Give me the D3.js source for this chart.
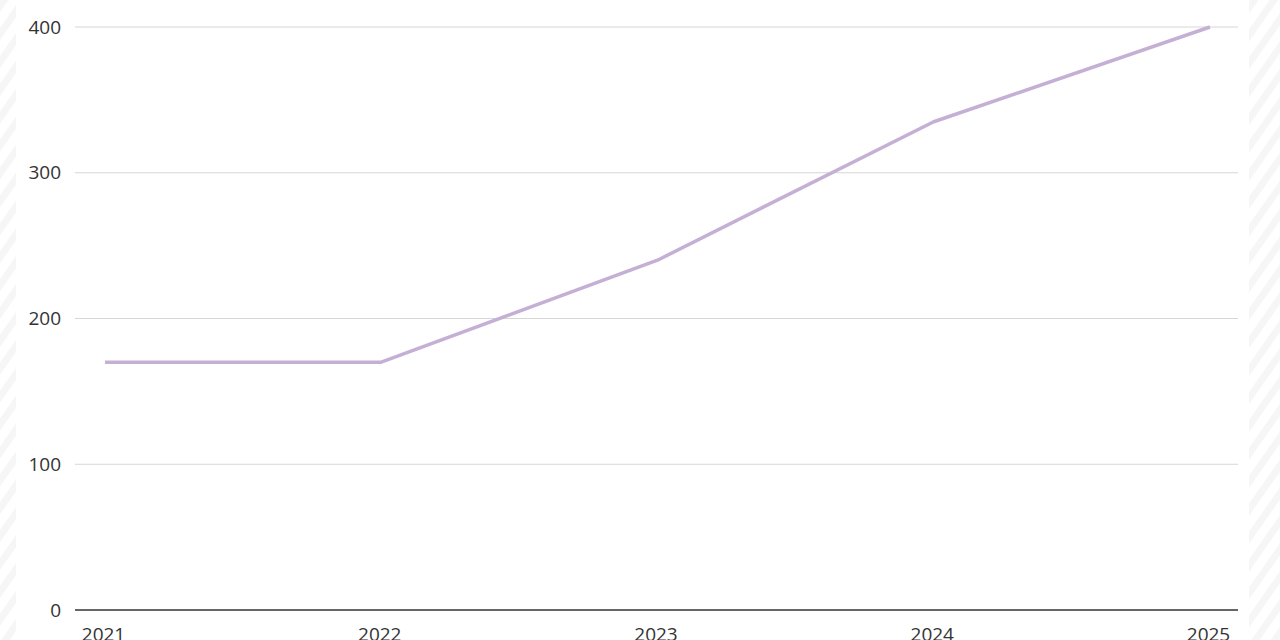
<!DOCTYPE html>
<html><head><meta charset="utf-8">
<script src="https://cdn.jsdelivr.net/npm/d3@7"></script>
<style>html,body{margin:0;padding:0;background:#fff;overflow:hidden}</style>
</head><body>
<svg id="c" width="1280" height="640"></svg>
<script>
const years = ["2021","2022","2023","2024","2025"];
const values = [170, 170, 240, 335, 400];
const yTicks = [0, 100, 200, 300, 400];

const svg = d3.select("#c");
const defs = svg.append("defs");
const pat = defs.append("pattern").attr("id","hatch").attr("patternUnits","userSpaceOnUse")
  .attr("width",16).attr("height",16).attr("patternTransform","rotate(35)");
pat.append("rect").attr("width",16).attr("height",16).attr("fill","#fff");
pat.append("rect").attr("width",7).attr("height",16).attr("fill","#f6f6f6");
svg.append("rect").attr("x",0).attr("y",0).attr("width",16).attr("height",640).attr("fill","url(#hatch)");
svg.append("rect").attr("x",1249).attr("y",0).attr("width",31).attr("height",640).attr("fill","url(#hatch)");

const x = d3.scalePoint().domain(years).range([105, 1210]);
const y = d3.scaleLinear().domain([0, 400]).range([610, 27]);
const font = "'Open Sans', 'Noto Sans', sans-serif";

const grid = svg.append("g");
grid.selectAll("line").data(yTicks.filter(d=>d>0)).join("line")
  .attr("x1",75).attr("x2",1238).attr("y1",d=>y(d)).attr("y2",d=>y(d))
  .attr("stroke","#d6d6d6").attr("stroke-width",1);

const yAxis = d3.axisLeft(y).tickValues(yTicks).tickSize(0).tickPadding(0);
const ya = svg.append("g").attr("transform","translate(61,0)").call(yAxis);
ya.select(".domain").remove();
ya.selectAll("text").attr("font-family",font).attr("font-size",19).attr("fill","#333");

svg.append("line").attr("x1",75).attr("x2",1238).attr("y1",y(0)).attr("y2",y(0))
  .attr("stroke","#333").attr("stroke-width",1.5);

const xAxis = d3.axisBottom(x).tickSize(0).tickPadding(18);
const xa = svg.append("g").attr("transform",`translate(-2,${y(0)})`).call(xAxis);
xa.select(".domain").remove();
xa.selectAll("text").attr("font-family",font).attr("font-size",19).attr("fill","#333");

const line = d3.line().x((d,i)=>x(years[i])).y(d=>y(d));
svg.append("path").datum(values).attr("d",line).attr("fill","none")
  .attr("stroke","#c5b0d5").attr("stroke-width",3.5).attr("stroke-linejoin","round");
</script>
</body></html>
